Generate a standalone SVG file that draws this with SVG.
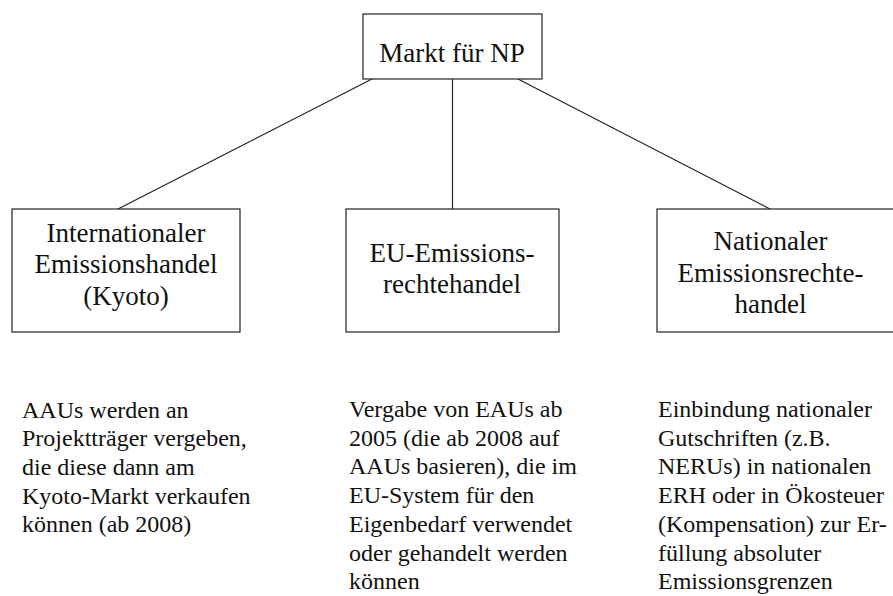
<svg xmlns="http://www.w3.org/2000/svg" width="893" height="596" viewBox="0 0 893 596">
  <style>
    .box { fill: #ffffff; stroke: #222222; stroke-width: 1.2; }
    .link { stroke: #222222; stroke-width: 1.2; fill: none; }
    text { font-family: 'Liberation Serif', Tinos, 'Times New Roman', Times, 'DejaVu Serif', serif; fill: #111111; }
    .title { font-size: 27px; text-anchor: middle; }
    .note { font-size: 24px; }
  </style>
  <rect width="893" height="596" fill="#ffffff"/>

  <!-- connectors from the root box to the three market boxes -->
  <g id="connectors">
    <line class="link" x1="372" y1="79" x2="118" y2="209"/>
    <line class="link" x1="452.5" y1="79" x2="452.5" y2="209"/>
    <line class="link" x1="518" y1="79" x2="770" y2="209"/>
  </g>

  <g id="markt">
    <rect class="box" x="363" y="14" width="179" height="65"/>
    <text class="title" x="452" y="62">Markt für NP</text>
  </g>

  <g id="international">
    <rect class="box" x="12" y="209" width="228" height="123"/>
    <text class="title" x="126" y="241.5">Internationaler</text>
    <text class="title" x="126" y="273">Emissionshandel</text>
    <text class="title" x="126" y="304.5">(Kyoto)</text>
  </g>

  <g id="eu">
    <rect class="box" x="346" y="209" width="213" height="123"/>
    <text class="title" x="452" y="261.5">EU-Emissions-</text>
    <text class="title" x="452" y="293">rechtehandel</text>
  </g>

  <g id="national">
    <rect class="box" x="657" y="209" width="245" height="123"/>
    <text class="title" x="770.5" y="250">Nationaler</text>
    <text class="title" x="770.5" y="281.5">Emissionsrechte-</text>
    <text class="title" x="770.5" y="313">handel</text>
  </g>

  <!-- descriptive notes below each market -->
  <g id="note-international">
    <text class="note" x="22" y="417.5">AAUs werden an</text>
    <text class="note" x="22" y="446.2">Projektträger vergeben,</text>
    <text class="note" x="22" y="474.9">die diese dann am</text>
    <text class="note" x="22" y="503.6">Kyoto-Markt verkaufen</text>
    <text class="note" x="22" y="532.3">können (ab 2008)</text>
  </g>

  <g id="note-eu">
    <text class="note" x="349" y="417">Vergabe von EAUs ab</text>
    <text class="note" x="349" y="445.7">2005 (die ab 2008 auf</text>
    <text class="note" x="349" y="474.4">AAUs basieren), die im</text>
    <text class="note" x="349" y="503.1">EU-System für den</text>
    <text class="note" x="349" y="531.8">Eigenbedarf verwendet</text>
    <text class="note" x="349" y="560.5">oder gehandelt werden</text>
    <text class="note" x="349" y="589.2">können</text>
  </g>

  <g id="note-national">
    <text class="note" x="658" y="417">Einbindung nationaler</text>
    <text class="note" x="658" y="445.7">Gutschriften (z.B.</text>
    <text class="note" x="658" y="474.4">NERUs) in nationalen</text>
    <text class="note" x="658" y="503.1">ERH oder in Ökosteuer</text>
    <text class="note" x="658" y="531.8">(Kompensation) zur Er-</text>
    <text class="note" x="658" y="560.5">füllung absoluter</text>
    <text class="note" x="658" y="589.2">Emissionsgrenzen</text>
  </g>
</svg>
